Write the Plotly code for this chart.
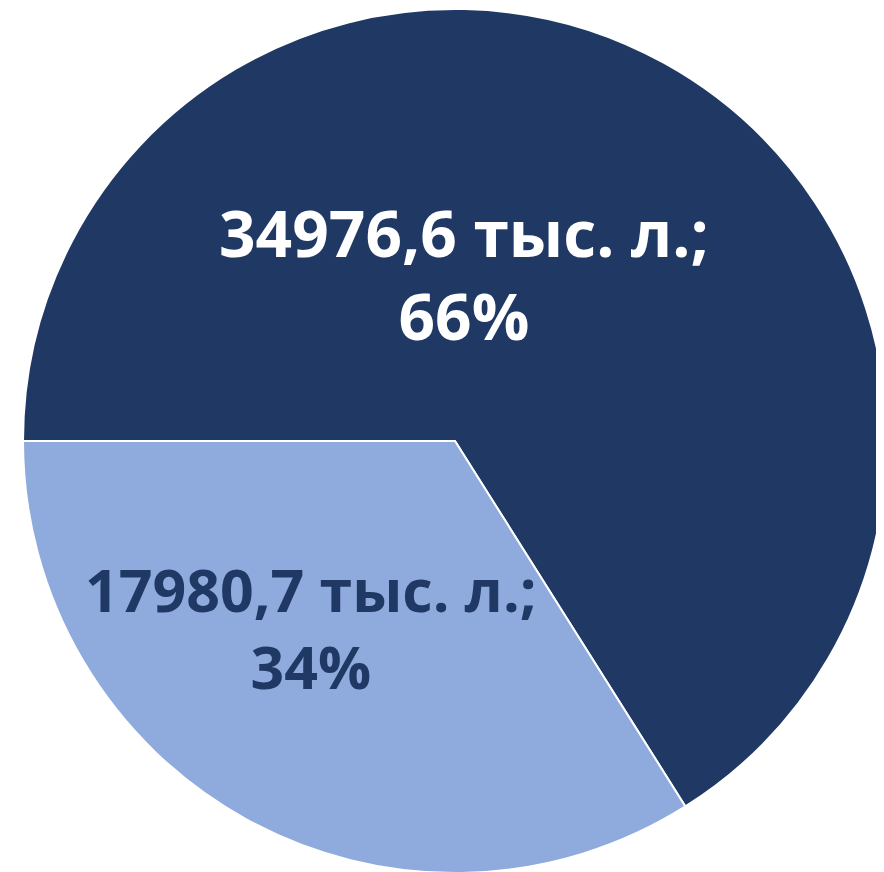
import plotly.graph_objects as go

labels = ["A", "B"]
values = [34976.6, 17980.7]
percents = ["66%", "34%"]
colors = ["#203864", "#8FAADC"]
text_colors = ["#FFFFFF", "#203864"]
font_sizes = [64, 59]

W, H = 884, 872
fig = go.Figure()
fig.add_trace(go.Pie(
    labels=labels, values=values, sort=False, direction="clockwise", rotation=270,
    marker=dict(colors=colors, line=dict(color="#FFFFFF", width=2)),
    textinfo="none", hoverinfo="none", showlegend=False,
    domain=dict(x=[15/884, 879/884], y=[7/872, 871/872]),
))

def fmt(v):
    return f"{v:.1f}".replace(".", ",")

label_pos = [(456, 266), (303, 619)]
for i, v in enumerate(values):
    x, y = label_pos[i]
    fig.add_annotation(
        x=x / W, y=1 - y / H, xref="paper", yref="paper",
        text=f"<b>{fmt(v)} тыс. л.;<br>{percents[i]}</b>",
        showarrow=False, font=dict(family="Open Sans", size=font_sizes[i], color=text_colors[i]),
        xanchor="center", yanchor="middle", align="center",
    )

fig.update_layout(width=W, height=H, margin=dict(l=0, r=0, t=0, b=0),
                  paper_bgcolor="white", plot_bgcolor="white")
fig.write_html("out.html")
